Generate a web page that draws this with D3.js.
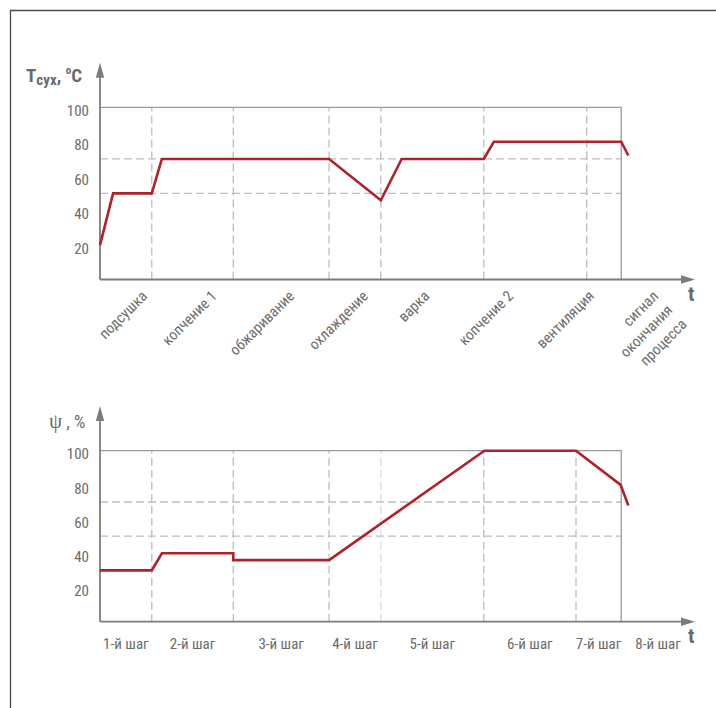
<!DOCTYPE html>
<html lang="ru">
<head>
<meta charset="utf-8">
<title>Tсух и ψ по шагам</title>
<script src="https://d3js.org/d3.v7.min.js"></script>
<style>
  body { margin: 0; background: #fff; }
  svg { display: block; }
  .lbl { font-family: "Liberation Sans Narrow", "Roboto Condensed", Roboto, sans-serif; fill: #6b6b6b; }
  .tick text { font-family: "Liberation Sans Narrow", "Roboto Condensed", Roboto, sans-serif; font-size: 15px; fill: #6b6b6b; }
</style>
</head>
<body>
<script>
// time is in arbitrary units 0..100 along the t axis
const stages = ["подсушка", "копчение 1", "обжаривание", "охлаждение", "варка", "копчение 2", "вентиляция", "сигнал|окончания|процесса"];
const stageLabelT = [8.1, 19.8, 32.8, 45.2, 55.5, 69.6, 83.2, 94.0];
const steps = ["1-й шаг", "2-й шаг", "3-й шаг", "4-й шаг", "5-й шаг", "6-й шаг", "7-й шаг", "8-й шаг"];

const topBounds = [8.7, 22.4, 38.5, 47.2, 64.5, 81.8];
const bottomBounds = [8.7, 22.4, 38.5, 47.2, 64.5, 80.0];
const frameEnd = 87.6;

const tempT = [0, 2.2, 8.7, 10.4, 38.5, 47.2, 50.7, 64.5, 66.2, 87.6, 88.8];
const tempV = [20, 50, 50, 70, 70, 46, 70, 70, 80, 80, 72];

const humT = [0, 8.7, 10.4, 22.4, 22.4, 38.5, 64.6, 80.0, 87.5, 88.8];
const humV = [30, 30, 40, 40, 36, 36, 100, 100, 80, 68];

const yTicks = [20, 40, 60, 80, 100];
const refLevels = [50, 70];

const W = 716, H = 708;
const svg = d3.select("body").append("svg").attr("width", W).attr("height", H);

// outer frame (only top and left edges are visible)
svg.append("path")
  .attr("d", `M10.5,${H} L10.5,10.5 L${W},10.5`)
  .attr("fill", "none").attr("stroke", "#4a4a4a").attr("stroke-width", 1.3);

const x = d3.scaleLinear().domain([0, 100]).range([100, 695]);
const red = "#b0222b";
const axisCol = "#7c7c7c";
const gridCol = "#bdbdbd";

function panel(y, bounds, tT, tV, faint) {
  const g = svg.append("g");
  const x0 = x(0), xEnd = x(frameEnd);

  // dashed reference levels
  g.selectAll(".ref").data(refLevels).enter().append("line")
    .attr("x1", x0).attr("x2", xEnd)
    .attr("y1", d => y(d)).attr("y2", d => y(d))
    .attr("stroke", gridCol).attr("stroke-width", 1.3).attr("stroke-dasharray", "8,4");

  // dashed stage boundaries
  g.selectAll(".vb").data(bounds).enter().append("line")
    .attr("x1", d => x(d)).attr("x2", d => x(d))
    .attr("y1", y(0)).attr("y2", y(100))
    .attr("stroke", d => d === faint ? "#dcdcdc" : gridCol)
    .attr("stroke-width", 1.3).attr("stroke-dasharray", "8,4");

  // solid top and right of the box
  g.append("path")
    .attr("d", `M${x0},${y(100)} L${xEnd},${y(100)} L${xEnd},${y(0)}`)
    .attr("fill", "none").attr("stroke", "#9a9a9a").attr("stroke-width", 1.3);

  // y ticks
  const ax = g.append("g").attr("transform", `translate(${x0},0)`)
    .call(d3.axisLeft(y).tickValues(yTicks).tickSize(0).tickPadding(11));
  ax.select(".domain").remove();
  ax.selectAll("text").attr("dy", "0.55em");

  // axes with arrows
  const yTip = y(100) - 44.6;
  g.append("line").attr("x1", x0).attr("x2", x0).attr("y1", y(0)).attr("y2", yTip + 10)
    .attr("stroke", axisCol).attr("stroke-width", 1.8);
  g.append("path").attr("d", `M${x0},${yTip} L${x0 - 4.2},${yTip + 15} L${x0 + 4.2},${yTip + 15} Z`)
    .attr("fill", axisCol);
  const xTip = x(100);
  g.append("line").attr("x1", x0).attr("x2", xTip - 10).attr("y1", y(0)).attr("y2", y(0))
    .attr("stroke", axisCol).attr("stroke-width", 1.8);
  g.append("path").attr("d", `M${xTip},${y(0)} L${xTip - 14},${y(0) - 4.2} L${xTip - 14},${y(0) + 4.2} Z`)
    .attr("fill", axisCol);

  g.append("text").attr("class", "lbl")
    .attr("x", xTip - 7).attr("y", y(0) + 21)
    .attr("font-size", 21).attr("font-weight", "bold").attr("fill", "#6e6e6e")
    .text("t");

  // data line
  const line = d3.line().x(d => x(d[0])).y(d => y(d[1]));
  g.append("path").datum(d3.zip(tT, tV))
    .attr("d", line).attr("fill", "none")
    .attr("stroke", red).attr("stroke-width", 2.6).attr("stroke-linejoin", "miter");
  return g;
}

// ---- upper chart: dry-bulb temperature
const yTop = d3.scaleLinear().domain([0, 100]).range([279.5, 107.3]);
panel(yTop, topBounds, tempT, tempV, null);

const tt = svg.append("text").attr("class", "lbl")
  .attr("x", 26).attr("y", 82).attr("font-weight", "bold").attr("fill", "#5a5a5a");
tt.append("tspan").attr("font-size", 19).text("T");
tt.append("tspan").attr("font-size", 15).attr("dy", 3).text("сух");
tt.append("tspan").attr("font-size", 19).attr("dy", -3).text(", ");
tt.append("tspan").attr("font-size", 11).attr("dy", -8).text("o");
tt.append("tspan").attr("font-size", 19).attr("dy", 8).text("C");

const sl = svg.selectAll(".stage").data(stages).enter().append("text")
  .attr("class", "lbl").attr("font-size", 15).attr("text-anchor", "end")
  .attr("transform", (d, i) => `translate(${x(stageLabelT[i])},297) rotate(-45)`);
sl.selectAll("tspan").data(d => d.split("|")).enter().append("tspan")
  .attr("x", 0).attr("dy", (d, i) => i === 0 ? 0 : 20).text(d => d);

// ---- lower chart: relative humidity
const yBot = d3.scaleLinear().domain([0, 100]).range([621.7, 450.7]);
panel(yBot, bottomBounds, humT, humV, 47.2);

const ht = svg.append("text").attr("class", "lbl")
  .attr("x", 49).attr("y", 428).attr("fill", "#666");
ht.append("tspan").attr("font-family", "'Liberation Serif', 'DejaVu Serif', serif").attr("font-size", 21).text("ψ");
ht.append("tspan").attr("font-size", 18).text(" , %");

const edges = [0].concat(bottomBounds, [frameEnd, 100]);
svg.selectAll(".step").data(steps).enter().append("text")
  .attr("class", "lbl").attr("font-size", 15).attr("text-anchor", "middle")
  .attr("x", (d, i) => x((edges[i] + edges[i + 1]) / 2))
  .attr("y", 649)
  .text(d => d);
</script>
</body>
</html>
